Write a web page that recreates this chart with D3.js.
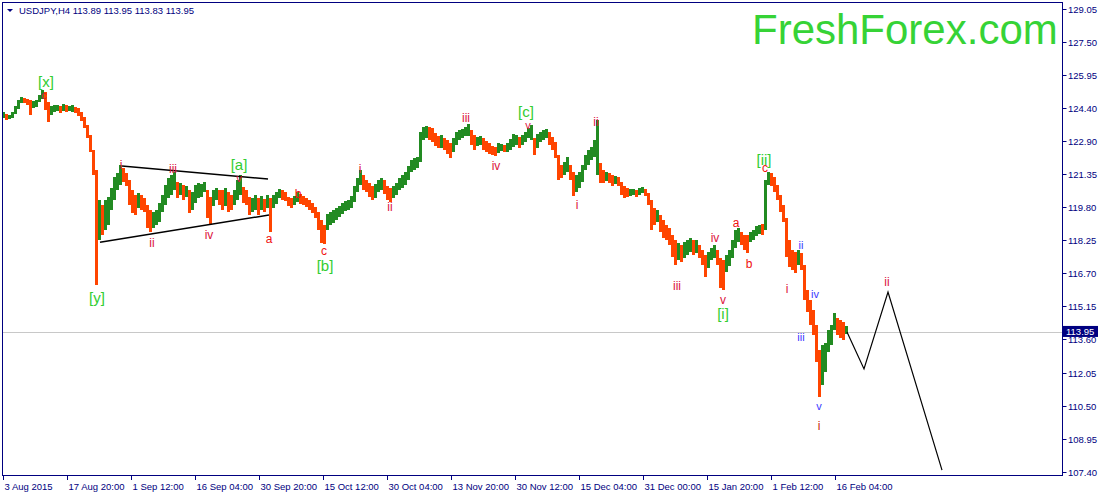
<!DOCTYPE html>
<html>
<head>
<meta charset="utf-8">
<script src="https://cdn.jsdelivr.net/npm/d3@7"></script>
<style>
  html, body { margin: 0; padding: 0; background: #fff; }
  svg { display: block; font-family: "Liberation Sans", Arial, sans-serif; }
</style>
</head>
<body>
<div id="chart"></div>
<script>
// USDJPY H4, one entry per 3 bars (high / low of that stretch)
const highs = [
  124.23,124.14,124.09,124.23,124.51,124.79,124.93,124.89,124.84,124.79,124.75,124.79,125.03,125.26,125.17,124.70,
  124.51,124.56,124.56,124.51,124.61,124.56,124.51,124.56,124.47,124.42,124.23,124.00,123.63,123.16,122.46,121.52,
  120.12,119.88,120.12,120.26,120.68,121.19,121.38,121.76,121.61,121.38,121.05,120.59,120.35,120.45,120.35,120.21,
  119.88,119.65,119.56,119.65,119.98,120.35,120.82,121.15,121.29,121.43,120.96,120.91,120.82,120.77,120.59,120.49,
  120.82,120.91,120.87,120.96,120.59,120.26,120.59,120.68,120.59,120.59,120.68,120.49,120.35,120.59,121.05,121.29,
  120.73,120.59,120.26,120.21,120.35,120.21,120.31,120.16,120.35,120.21,120.35,120.49,120.63,120.59,120.49,120.26,
  120.21,120.31,120.49,120.40,120.31,120.21,120.12,119.98,119.79,119.56,119.18,118.95,119.46,119.56,119.65,119.74,
  119.84,119.98,120.07,120.12,120.31,120.77,121.15,121.52,121.29,121.05,120.91,120.77,120.87,121.05,121.15,121.05,
  120.77,120.68,120.77,120.91,121.15,121.29,121.43,121.71,121.99,122.08,122.13,123.30,123.53,123.58,123.53,123.49,
  123.25,123.11,123.16,123.02,122.92,122.78,123.02,123.30,123.39,123.44,123.53,123.67,123.39,123.16,123.06,123.11,
  123.02,122.88,122.78,122.64,122.60,122.78,122.74,122.69,122.78,122.97,123.20,123.16,123.06,123.16,123.30,123.49,
  123.63,123.02,123.20,123.30,123.39,123.44,123.30,123.06,122.83,122.22,121.76,121.90,122.13,121.76,121.43,121.29,
  121.43,121.76,122.22,122.46,122.60,122.92,123.86,121.85,121.52,121.43,121.38,121.29,121.24,121.19,120.96,120.77,
  120.68,120.63,120.63,120.59,120.68,120.73,120.63,120.45,120.12,119.74,119.65,119.42,119.18,118.95,118.81,118.48,
  118.25,118.11,118.01,118.15,118.25,118.34,118.25,118.25,118.01,117.78,117.55,117.69,117.87,118.01,117.78,117.41,
  117.31,117.55,117.78,118.25,118.71,118.81,118.62,118.48,118.48,118.62,118.71,118.90,118.95,118.99,121.05,121.43,
  121.38,121.19,120.82,120.35,119.88,119.28,118.25,117.78,117.69,117.78,117.64,117.08,115.91,115.44,114.98,114.27,
  113.10,113.34,113.43,114.04,114.27,114.84,114.60,114.51,114.41,114.23
];
const lows = [
  123.95,123.86,123.91,123.95,124.14,124.37,124.65,124.65,124.56,124.09,124.42,124.47,124.70,124.84,124.33,123.77,
  124.09,124.23,124.28,124.19,124.28,124.23,124.28,124.23,124.19,124.05,123.81,123.49,123.02,122.36,121.29,116.14,
  118.25,118.48,118.71,118.95,119.65,120.12,120.59,120.82,120.96,120.77,119.88,119.51,119.42,119.74,119.65,119.56,
  118.81,118.62,118.81,118.95,119.09,119.56,119.88,120.21,120.35,120.59,120.21,120.35,120.12,120.26,119.51,119.65,
  119.98,120.21,120.26,120.49,119.28,118.99,119.84,120.12,119.88,119.65,119.84,119.56,119.65,119.88,120.12,120.35,
  119.98,119.88,119.42,119.56,119.65,119.42,119.65,119.56,119.74,118.62,119.74,119.93,120.21,120.12,120.07,119.84,
  119.74,119.88,120.02,119.93,119.88,119.79,119.65,119.51,119.28,118.71,118.11,118.06,118.71,118.95,119.04,119.18,
  119.32,119.46,119.60,119.65,119.74,120.02,120.49,120.82,120.59,120.49,120.26,120.12,120.21,120.49,120.59,120.40,
  120.12,120.02,120.21,120.35,120.59,120.68,120.82,121.05,121.43,121.52,121.61,121.90,122.92,123.02,122.92,122.83,
  122.64,122.55,122.55,122.46,122.27,122.08,122.36,122.69,122.92,123.02,123.11,123.11,122.69,122.46,122.64,122.69,
  122.46,122.36,122.27,122.22,122.18,122.32,122.41,122.36,122.36,122.46,122.60,122.69,122.55,122.69,122.83,123.02,
  122.92,122.22,122.55,122.83,122.92,123.02,122.69,122.46,122.08,121.05,121.15,121.29,121.43,121.05,120.31,120.49,
  120.68,120.96,121.52,121.76,121.99,122.13,121.29,120.91,120.91,121.01,120.91,120.77,120.87,120.77,120.35,120.21,
  120.26,120.31,120.35,120.26,120.35,120.45,120.31,119.88,118.71,118.95,119.09,118.62,118.34,118.25,118.01,117.45,
  117.08,117.31,117.22,117.41,117.55,117.69,117.55,117.64,117.41,117.08,116.52,116.94,117.31,117.41,117.08,116.00,
  115.91,116.75,117.03,117.41,117.87,118.15,118.01,117.78,117.64,118.15,118.25,118.43,118.53,118.48,118.71,120.82,
  120.77,120.49,120.12,119.56,119.09,117.45,116.98,116.84,116.70,117.08,116.84,115.44,114.88,114.27,113.81,112.54,
  110.91,111.47,112.07,113.01,113.34,114.04,113.81,113.67,113.57,113.85
];
const barsPerGroup = 3;

// header quote
const symbol = "USDJPY,H4";
const quote = [113.89, 113.95, 113.83, 113.95];
const lastPrice = 113.95;

// axes
const priceTicks = [129.05, 127.50, 125.95, 124.40, 122.90, 121.35, 119.80, 118.25,
  116.70, 115.15, 113.60, 112.05, 110.50, 108.95, 107.40];
const timeLabels = ["3 Aug 2015", "17 Aug 20:00", "1 Sep 12:00", "16 Sep 04:00", "30 Sep 20:00",
  "15 Oct 12:00", "30 Oct 04:00", "13 Nov 20:00", "30 Nov 12:00", "15 Dec 04:00",
  "31 Dec 00:00", "15 Jan 20:00", "1 Feb 12:00", "16 Feb 04:00"];
const barsPerLabel = 64;

// triangle lines (bar index, price)
const triangleUpper = [[119, 121.71], [265, 121.10]];
const triangleLower = [[97, 118.15], [266, 119.42]];
// forecast path
const forecast = [[844, 113.95], [861, 112.22], [885, 115.82], [939, 107.49]];

// wave labels: text, bar index, price, kind
const waveText  = ["[x]", "c", "[y]", "i", "ii", "iii", "iv", "[a]", "v", "a", "b", "c", "[b]", "i", "ii",
  "iii", "iv", "[c]", "v", "i", "ii", "iii", "iv", "v", "[i]", "a", "b", "[ii]", "c", "i", "ii", "iv",
  "iii", "v", "i", "ii"];
const waveBar   = [43, 41, 94, 118, 149, 170, 206, 236, 236, 266, 295, 321, 322, 357, 387,
  463, 493, 523, 525, 574, 593, 674, 712, 720, 720, 733, 746, 761, 762, 784, 798, 812,
  798, 816, 816, 884];
const wavePrice = [125.66, 125.05, 115.54, 121.76, 118.11, 121.57, 118.48, 121.76, 121.17, 118.29, 120.40, 117.72, 117.06, 121.57, 119.79,
  123.95, 121.71, 124.24, 123.65, 119.88, 123.77, 116.10, 118.34, 115.44, 114.80, 119.04, 117.12, 122.00, 121.64, 115.96, 118.01, 115.72,
  113.71, 110.49, 109.55, 116.28];
const waveKind  = ["major", "minorS", "major", "minor", "minor", "minor", "minor", "major", "minorS", "abc", "abc", "abc", "major", "minor", "minor",
  "minor", "minor", "major", "minorS", "minor", "minor", "minor", "minor", "minor", "major", "abc", "abc", "major", "abc", "minor", "sub", "sub",
  "sub", "sub", "low", "minor"];

const kindStyle = {
  major:  { fill: "#32cd32", size: 15 },
  minor:  { fill: "#dc143c", size: 12 },
  minorS: { fill: "#dc143c", size: 11 },
  abc:    { fill: "#f01010", size: 12 },
  sub:    { fill: "#3a3aff", size: 11 },
  low:    { fill: "#c8200a", size: 12 }
};

const W = 1102, H = 496;
const plot = { left: 2, top: 2, right: 1062, bottom: 475 };
const axisColor = "#000080";

const svg = d3.select("#chart").append("svg")
  .attr("width", W).attr("height", H);

svg.append("rect").attr("width", W).attr("height", H).attr("fill", "#fff");

const x = d3.scaleLinear().domain([0, 1059]).range([plot.left + 1, plot.right]);
const y = d3.scaleLinear().domain([107.26, 129.38]).range([plot.bottom, plot.top]);

// current price line
svg.append("line")
  .attr("x1", plot.left).attr("x2", plot.right)
  .attr("y1", Math.round(y(lastPrice)) + 0.5).attr("y2", Math.round(y(lastPrice)) + 0.5)
  .attr("stroke", "#c8c8c8").attr("stroke-width", 1);

// logo
svg.append("text")
  .attr("x", 752).attr("y", 44)
  .attr("font-size", 42)
  .attr("fill", "#36d336")
  .text("FreshForex.com");

// bars
const groups = highs.map((h, g) => ({ i: g * barsPerGroup, hi: h, lo: lows[g] }));
groups.forEach((d, g) => {
  const prev = g > 0 ? groups[g - 1] : d;
  d.up = (d.hi + d.lo) >= (prev.hi + prev.lo);
});

svg.append("g")
  .selectAll("rect")
  .data(groups)
  .join("rect")
  .attr("x", d => Math.round(x(d.i)) - 1)
  .attr("width", barsPerGroup)
  .attr("y", d => Math.round(y(d.hi)))
  .attr("height", d => Math.max(1, Math.round(y(d.lo)) - Math.round(y(d.hi))))
  .attr("fill", d => d.up ? "#228b22" : "#ff4500");

// triangle and forecast lines
const line = d3.line().x(d => x(d[0])).y(d => y(d[1]));
[triangleUpper, triangleLower].forEach(seg => {
  svg.append("path").attr("d", line(seg))
    .attr("fill", "none").attr("stroke", "#000").attr("stroke-width", 1.5);
});
svg.append("path").attr("d", line(forecast))
  .attr("fill", "none").attr("stroke", "#000").attr("stroke-width", 1.2);

// wave labels
svg.append("g")
  .selectAll("text")
  .data(waveText.map((t, k) => ({ t, i: waveBar[k], p: wavePrice[k], s: kindStyle[waveKind[k]] })))
  .join("text")
  .attr("x", d => x(d.i))
  .attr("y", d => y(d.p))
  .attr("text-anchor", "middle")
  .attr("dominant-baseline", "central")
  .attr("font-size", d => d.s.size)
  .attr("fill", d => d.s.fill)
  .text(d => d.t);

// frame
svg.append("rect")
  .attr("x", plot.left + 0.5).attr("y", plot.top + 0.5)
  .attr("width", plot.right - plot.left).attr("height", plot.bottom - plot.top)
  .attr("fill", "none").attr("stroke", axisColor).attr("stroke-width", 1);

// price axis
const yAxis = svg.append("g");
priceTicks.forEach(v => {
  const py = Math.round(y(v)) + 0.5;
  yAxis.append("line")
    .attr("x1", plot.right + 0.5).attr("x2", plot.right + 4.5)
    .attr("y1", py).attr("y2", py)
    .attr("stroke", axisColor);
  yAxis.append("text")
    .attr("x", plot.right + 6).attr("y", py)
    .attr("dominant-baseline", "central")
    .attr("font-size", 9.5).attr("fill", axisColor)
    .text(v.toFixed(2));
});

// last price box
const ly = y(lastPrice);
svg.append("rect")
  .attr("x", plot.right + 1).attr("y", ly - 6)
  .attr("width", 35).attr("height", 11)
  .attr("fill", axisColor);
svg.append("text")
  .attr("x", plot.right + 4).attr("y", ly)
  .attr("dominant-baseline", "central")
  .attr("font-size", 9.5).attr("fill", "#fff")
  .text(lastPrice.toFixed(2));

// time axis
const xAxis = svg.append("g");
timeLabels.forEach((t, k) => {
  const px = Math.round(x(k * barsPerLabel)) + 0.5;
  xAxis.append("line")
    .attr("x1", px).attr("x2", px)
    .attr("y1", plot.bottom + 0.5).attr("y2", plot.bottom + 5)
    .attr("stroke", axisColor);
  xAxis.append("text")
    .attr("x", px + 1).attr("y", plot.bottom + 11)
    .attr("dominant-baseline", "central")
    .attr("font-size", 9.5).attr("fill", axisColor)
    .text(t);
});

// header
svg.append("path")
  .attr("d", "M7,9 L13,9 L10,12 Z")
  .attr("fill", axisColor);
svg.append("text")
  .attr("x", 19).attr("y", 10.5)
  .attr("dominant-baseline", "central")
  .attr("font-size", 9.5).attr("fill", axisColor)
  .text(symbol + "  " + quote.map(v => v.toFixed(2)).join(" "));
</script>
</body>
</html>
